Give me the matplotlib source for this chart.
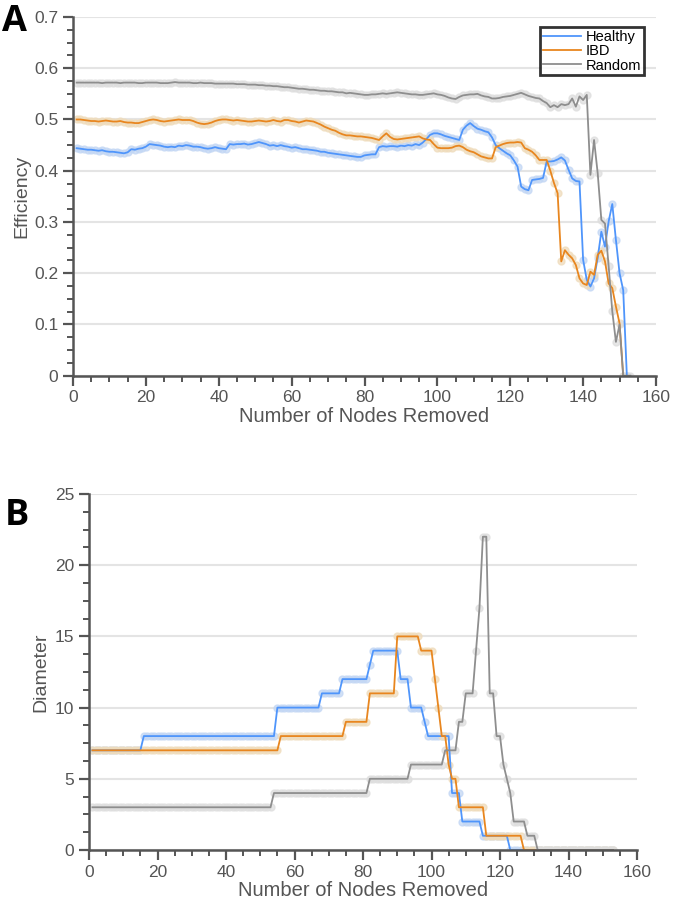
import numpy as np
import matplotlib.pyplot as plt
from matplotlib.ticker import MultipleLocator, FuncFormatter

plt.rcParams['font.family'] = ['Liberation Sans', 'DejaVu Sans']

series_names = ["Healthy", "IBD", "Random"]

# panel A: global efficiency after removing 1, 2, 3, ... nodes
healthy_eff = [
    .444, .443, .442, .441, .441, .440, .439, .440, .438, .437,
    .437, .436, .435, .434, .436, .442, .441, .443, .444, .447,
    .452, .451, .450, .449, .447, .446, .447, .446, .449, .448,
    .450, .449, .447, .447, .446, .444, .443, .444, .446, .444,
    .443, .442, .452, .451, .452, .452, .453, .451, .452, .454,
    .456, .454, .452, .449, .450, .448, .450, .448, .447, .445,
    .446, .444, .442, .442, .441, .440, .439, .437, .437, .435,
    .434, .433, .432, .431, .430, .429, .428, .427, .427, .430,
    .431, .432, .432, .446, .448, .447, .448, .448, .447, .449,
    .448, .450, .449, .452, .450, .455, .462, .470, .473, .473,
    .471, .468, .466, .464, .462, .460, .480, .488, .493, .487,
    .482, .480, .477, .475, .465, .450, .444, .439, .434, .430,
    .420, .408, .369, .364, .362, .382, .383, .384, .386, .418,
    .418, .419, .422, .426, .420, .402, .385, .380, .379, .226,
    .187, .174, .190, .230, .281, .252, .301, .335, .265, .200,
    .167, 0.0,
]
ibd_eff = [
    .500, .500, .499, .498, .497, .497, .496, .497, .498, .497,
    .496, .496, .497, .495, .494, .494, .493, .493, .495, .497,
    .499, .500, .499, .497, .496, .497, .498, .499, .500, .499,
    .499, .499, .497, .494, .492, .491, .492, .494, .497, .499,
    .500, .500, .499, .498, .499, .498, .497, .496, .496, .497,
    .498, .497, .496, .497, .499, .497, .496, .499, .499, .497,
    .496, .494, .496, .498, .497, .496, .493, .490, .486, .483,
    .480, .478, .474, .471, .469, .469, .468, .467, .467, .466,
    .465, .464, .462, .460, .467, .473, .466, .462, .461, .462,
    .463, .464, .465, .466, .467, .463, .461, .460, .452, .445,
    .444, .444, .444, .445, .448, .449, .446, .441, .438, .436,
    .432, .428, .426, .424, .424, .446, .449, .452, .454, .455,
    .455, .456, .455, .444, .441, .437, .430, .421, .421, .421,
    .400, .376, .356, .223, .245, .236, .229, .216, .190, .180,
    .177, .203, .197, .236, .244, .223, .180, .171, .135, .102,
    0.0,
]
random_eff = [
    .572, .572, .572, .572, .572, .572, .572, .571, .572, .572,
    .572, .572, .571, .572, .572, .572, .572, .571, .571, .572,
    .572, .572, .572, .571, .571, .571, .572, .573, .572, .572,
    .572, .572, .571, .571, .572, .571, .571, .571, .570, .570,
    .570, .570, .570, .570, .569, .569, .569, .568, .568, .568,
    .567, .567, .566, .566, .565, .565, .564, .563, .563, .562,
    .561, .560, .560, .559, .558, .558, .557, .556, .556, .555,
    .555, .554, .553, .553, .551, .552, .551, .550, .549, .548,
    .548, .549, .549, .550, .551, .550, .551, .552, .553, .552,
    .551, .550, .549, .549, .548, .548, .549, .550, .551, .549,
    .548, .546, .543, .541, .540, .544, .547, .548, .549, .549,
    .550, .547, .545, .544, .541, .541, .542, .544, .545, .546,
    .548, .550, .552, .549, .546, .544, .542, .541, .536, .532,
    .524, .528, .524, .530, .528, .530, .541, .525, .545, .538,
    .548, .392, .460, .395, .304, .297, .214, .126, .066, .100,
    0.0, 0.0, 0.0,
]

# panel B: network diameter, read as (value, number of consecutive nodes)
healthy_diam_runs = [(7, 15), (8, 39), (10, 13), (11, 6), (12, 8), (13, 1),
                     (14, 8), (12, 3), (10, 4), (9, 1), (8, 7), (4, 3),
                     (2, 6), (1, 8), (0, 31)]
ibd_diam_runs = [(7, 55), (8, 19), (9, 7), (11, 8), (15, 7), (14, 4),
                 (12, 1), (10, 1), (8, 2), (6, 1), (5, 2), (3, 8),
                 (1, 11), (0, 27)]
random_diam_runs = [(3, 53), (4, 28), (5, 12), (6, 10), (7, 4), (9, 2),
                    (11, 3), (14, 1), (17, 1), (22, 2), (11, 2), (8, 2),
                    (6, 1), (5, 1), (4, 1), (2, 4), (1, 3), (0, 23)]

line_colors = ["#4f95fb", "#e8861f", "#8e8e8e"]
halo_colors = ["#c3d7f4", "#efdcbc", "#dedede"]
text_gray = "#555555"


def expand(runs):
    return np.repeat([v for v, n in runs], [n for v, n in runs])


def style_axes(ax, ymax, ymajor, yminor, fmt):
    ax.set_xlim(0, 160)
    ax.set_ylim(0, ymax)
    ax.xaxis.set_major_locator(MultipleLocator(20))
    ax.xaxis.set_minor_locator(MultipleLocator(5))
    ax.yaxis.set_major_locator(MultipleLocator(ymajor))
    ax.yaxis.set_minor_locator(MultipleLocator(yminor))
    ax.yaxis.set_major_formatter(FuncFormatter(fmt))
    for side in ["top", "right"]:
        ax.spines[side].set_visible(False)
    for side in ["left", "bottom"]:
        ax.spines[side].set_color(text_gray)
        ax.spines[side].set_linewidth(1.8)
        ax.spines[side].set_zorder(5)
    ax.tick_params(which="major", length=7.5, width=1.6, color=text_gray,
                   labelcolor=text_gray, labelsize=12.5, pad=3)
    ax.tick_params(which="minor", length=4, width=1.4, color=text_gray)
    ax.grid(axis="y", color="#e4e4e4", lw=1.5, zorder=0)
    ax.set_axisbelow(True)
    ax.set_xlabel("Number of Nodes Removed", fontsize=14.5, color=text_gray,
                  labelpad=1)


def draw_series(ax, values_list):
    for vals, hc in zip(values_list, halo_colors):
        x = np.arange(1, len(vals) + 1)
        ax.plot(x, vals, ls="none", marker="o", ms=5, mfc=hc, mec=hc,
                alpha=0.75, zorder=2)
    for vals, lc, name in zip(values_list, line_colors, series_names):
        x = np.arange(1, len(vals) + 1)
        ax.plot(x, vals, color=lc, lw=1.3, label=name, zorder=3)


fig = plt.figure(figsize=(6.75, 9.01), dpi=100)

axA = fig.add_axes([73 / 675, 1 - 375.7 / 901, 583 / 675, 358.7 / 901])
style_axes(axA, 0.7, 0.1, 0.025, lambda v, p: f"{v:.1f}" if v > 0 else "0")
draw_series(axA, [healthy_eff, ibd_eff, random_eff])
axA.set_ylabel("Efficiency", fontsize=14, color=text_gray, labelpad=3)
leg = axA.legend(loc="upper right", bbox_to_anchor=(0.979, 0.972),
                 fontsize=10.5, frameon=True, fancybox=False,
                 handlelength=2.6, handletextpad=0.3, labelspacing=0.02,
                 borderpad=0.2, borderaxespad=0)
leg.get_frame().set_edgecolor("black")
leg.get_frame().set_linewidth(2)

axB = fig.add_axes([89 / 675, 1 - 850 / 901, 548 / 675, 356 / 901])
style_axes(axB, 25, 5, 1.25, lambda v, p: f"{v:g}")
draw_series(axB, [expand(healthy_diam_runs), expand(ibd_diam_runs),
                  expand(random_diam_runs)])
axB.set_ylabel("Diameter", fontsize=14, color=text_gray, labelpad=4)

fig.text(2 / 675, 1 - 4 / 901, "A", fontsize=26, fontweight="bold",
         family="Open Sans", va="top", ha="left")
fig.text(5 / 675, 1 - 498 / 901, "B", fontsize=26, fontweight="bold",
         family="Open Sans", va="top", ha="left")

fig.savefig("out.png", dpi=100)
